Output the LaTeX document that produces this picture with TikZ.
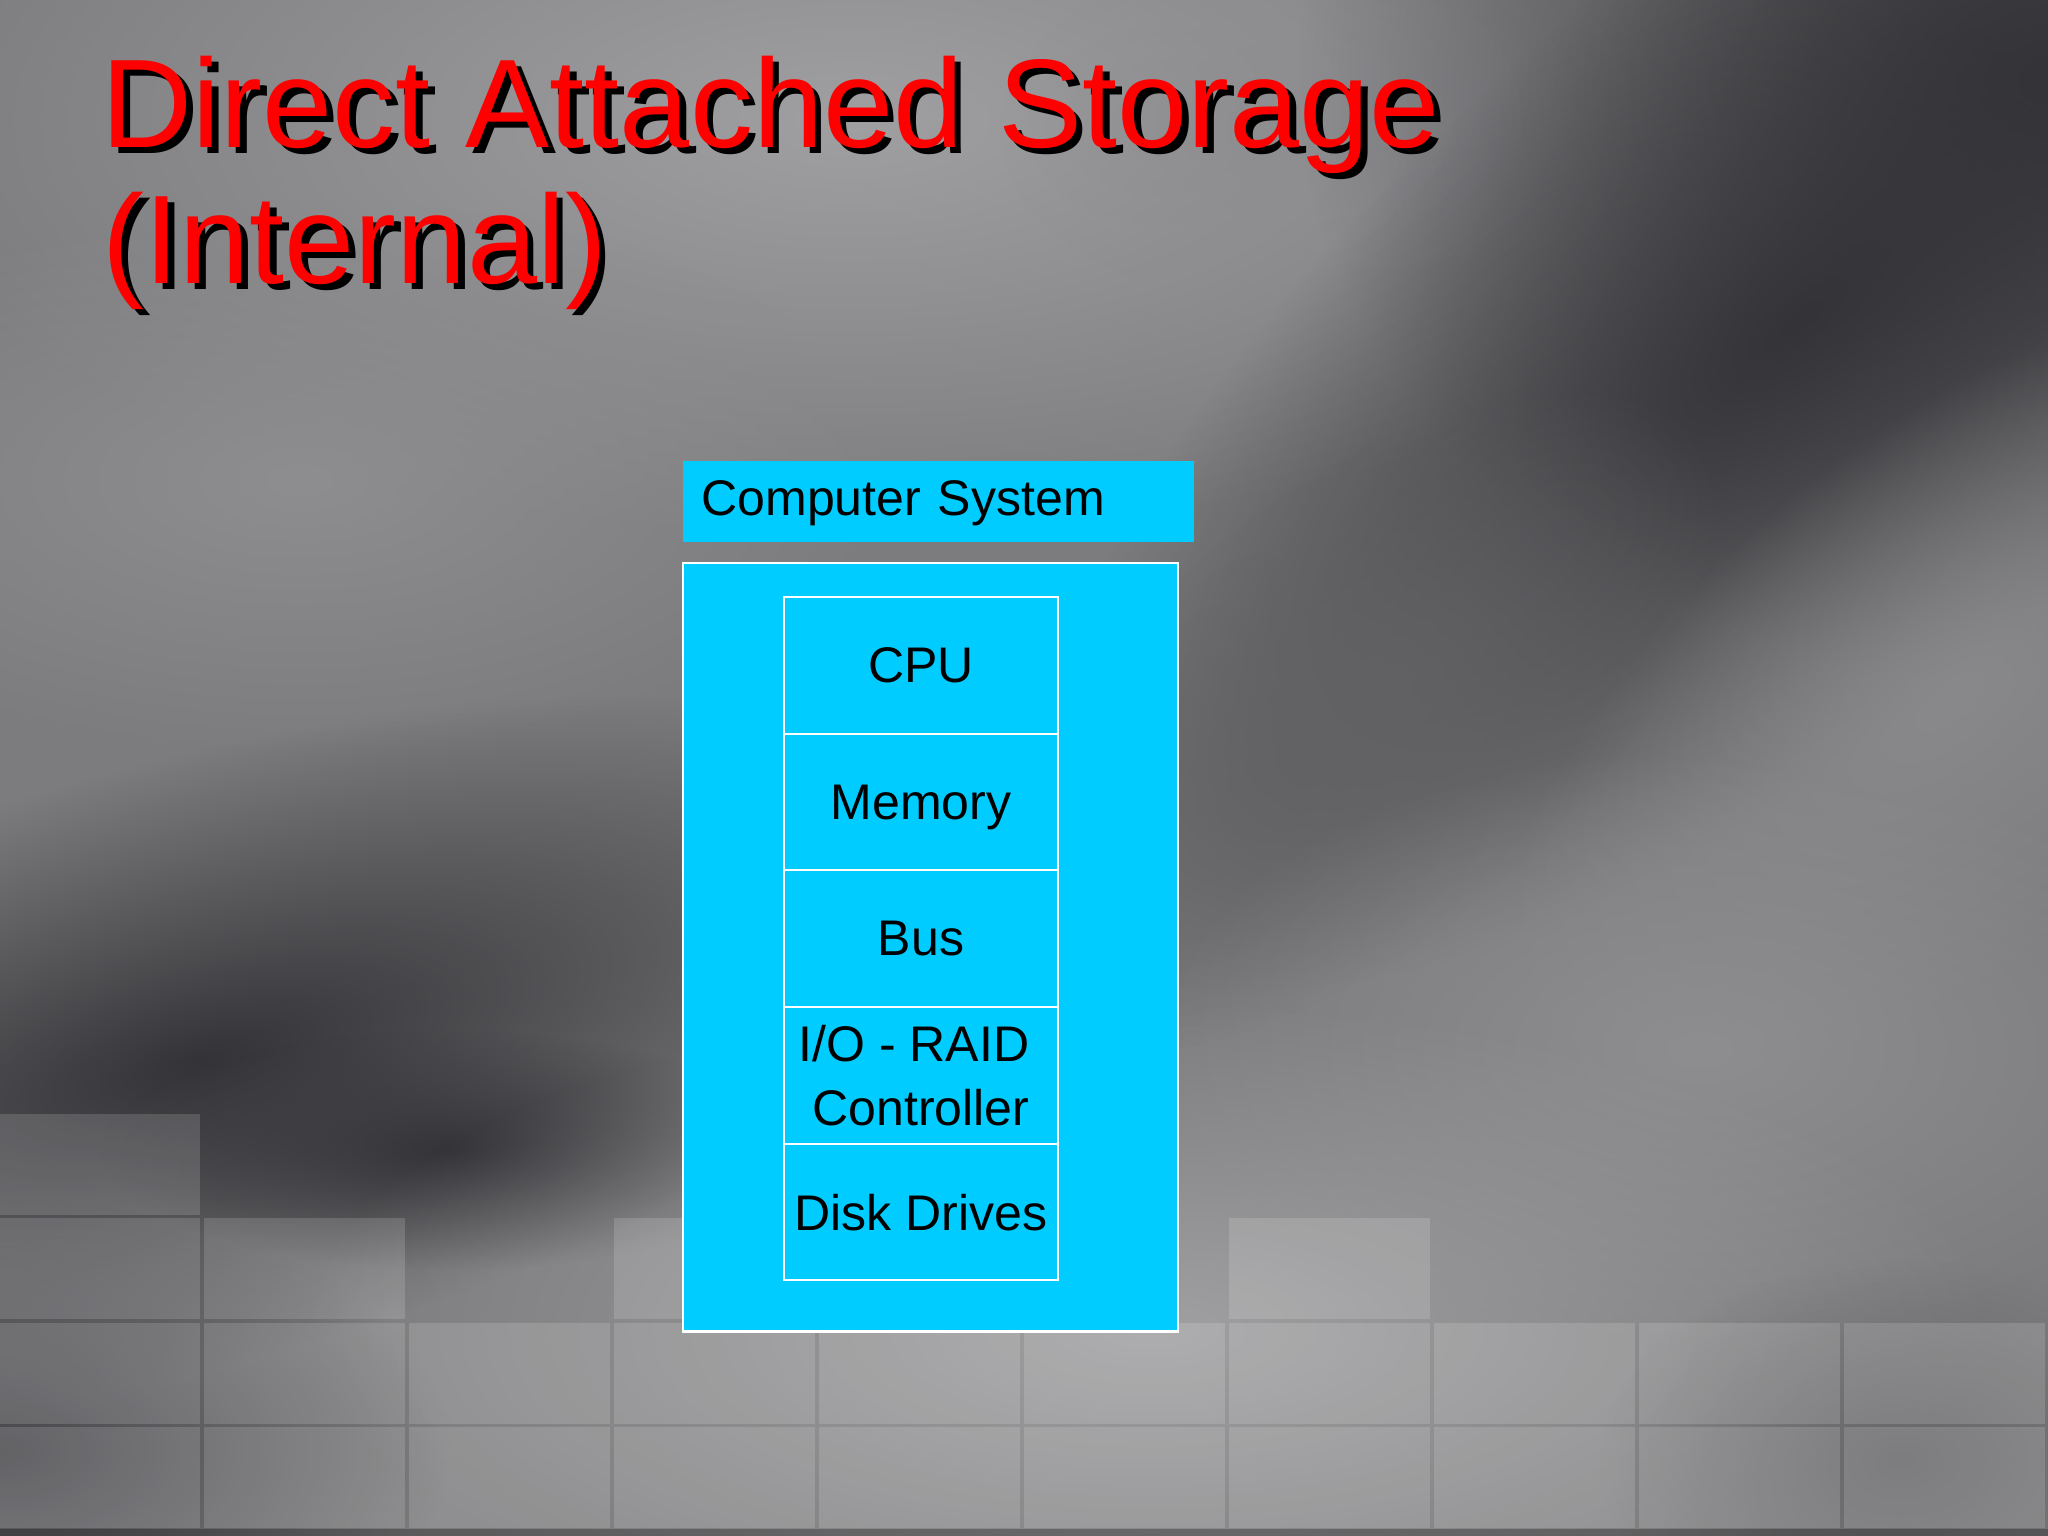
\documentclass[tikz,border=0pt]{standalone}
\usepackage{fontspec}
\setmainfont{Liberation Sans}
\usetikzlibrary{
	positioning,
	fadings
}

\definecolor{boxcyan}{HTML}{00CCFF}
\definecolor{titlered}{HTML}{FF0000}
\definecolor{bgbase}{HTML}{7C7B7D}
\definecolor{bglight}{HTML}{A0A0A2}
\definecolor{bgmid}{HTML}{8E8D90}
\definecolor{bgdark}{HTML}{48474B}
\definecolor{bgdarkest}{HTML}{343337}
\tikzfading[name=softedge, inner color=transparent!0, outer color=transparent!100]
% 带阴影的文字
\newcommand{\dropshadow}[1]{\makebox[0pt][l]{\hspace{1.85pt}\raisebox{-1.85pt}{\color{black}#1}}#1}

\begin{document}
\begin{tikzpicture}[
				x=0.01cm, y=-0.01cm,
				blob/.style={path fading=softedge},
				tile/.style={fill=white, fill opacity=0.15},
				heading/.style={anchor=base west, inner sep=0pt, text=titlered, font=\fontsize{35.85}{38.7}\selectfont},
				panel/.style={fill=boxcyan, inner sep=0pt, outer sep=0pt},
				cell/.style={panel, draw=white, line width=0.6pt, minimum width=2.74cm, minimum height=1.366cm, align=center, text depth=-0.16em, font=\fontsize{14.23}{17.93}\selectfont}
			]
				% 背景
				\useasboundingbox (0,0) rectangle (2048,1536);
				\fill[bgbase] (0,0) rectangle (2048,1536);
				\begin{scope}
					\clip (0,0) rectangle (2048,1536);
					\fill[blob, bglight]   (850,120)   ellipse [x radius=1000, y radius=420];
					\fill[blob, bgmid]     (300,480)   ellipse [x radius=600, y radius=280];
					\fill[blob, bgmid]     (1300,130)  ellipse [x radius=300, y radius=180];
					\fill[blob, bgdarkest] (2048,80)   ellipse [x radius=750, y radius=600];
					\begin{scope}[transform canvas={rotate around={40:(1800,320)}}]
						\fill[blob, bgdarkest] (1800,320) ellipse [x radius=950, y radius=380];
					\end{scope}
					\begin{scope}[transform canvas={rotate around={40:(1350,720)}}]
						\fill[blob, bgdark!50!bgbase] (1350,720) ellipse [x radius=450, y radius=220];
					\end{scope}
					\begin{scope}[transform canvas={rotate around={40:(1950,700)}}]
						\fill[blob, bgmid!70!bgbase] (1950,700) ellipse [x radius=550, y radius=260];
					\end{scope}
					\fill[blob, bgmid]     (1700,1050) ellipse [x radius=550, y radius=300];
					\begin{scope}[transform canvas={rotate around={15:(200,1060)}}]
						\fill[blob, bgdarkest] (200,1060) ellipse [x radius=850, y radius=300];
					\end{scope}
					\fill[blob, bgdarkest] (450,1150)  ellipse [x radius=350, y radius=120];
					\fill[blob, bglight]   (1150,1330) ellipse [x radius=850, y radius=330];
					\fill[blob, bgdark!40!bgbase] (1900,1460) ellipse [x radius=300, y radius=200];
					\fill[blob, bgdark]    (0,1450)    ellipse [x radius=450, y radius=250];

					% 地砖
					\foreach \c in {0,...,9} {
						\fill[tile] (\c*205-1,1323) rectangle ++(201,101);
						\fill[tile] (\c*205-1,1427) rectangle ++(201,101);
					}
					\foreach \c in {0,1,3,6}
						\fill[tile] (\c*205-1,1218) rectangle ++(201,101);
					\fill[tile] (-1,1114) rectangle ++(201,101);
					\fill[black, opacity=0.25] (0,1529) rectangle (2048,1536);
				\end{scope}

				% 标题
				\node[heading] (title1) at (101,147) {\dropshadow{Direct Attached Storage}};
				\node[heading] (title2) at (102,283) {\dropshadow{(Internal)}};

				% 标签框
				\node[panel, anchor=north west, text width=4.74cm, inner xsep=0.185cm, minimum height=0.81cm,
					text height=0.82em, text depth=0pt, align=left, font=\fontsize{14.23}{17.93}\selectfont]
					(lbl) at (683,461) {Computer System};

				% 系统框
				\node[panel, draw=white, line width=0.6pt, anchor=north west, minimum width=4.95cm, minimum height=7.68cm]
					(sys) at (683,563) {};

				% 部件
				\node[cell] (cpu) at (921,665.3) {CPU};
				\node[cell, below=0pt of cpu]  (mem)  {Memory};
				\node[cell, below=0pt of mem]  (bus)  {Bus};
				\node[cell, below=0pt of bus]  (raid) {I/O - RAID\kern0.28em\\Controller};
				\node[cell, below=0pt of raid] (disk) {Disk Drives};
			\end{tikzpicture}
\end{document}
